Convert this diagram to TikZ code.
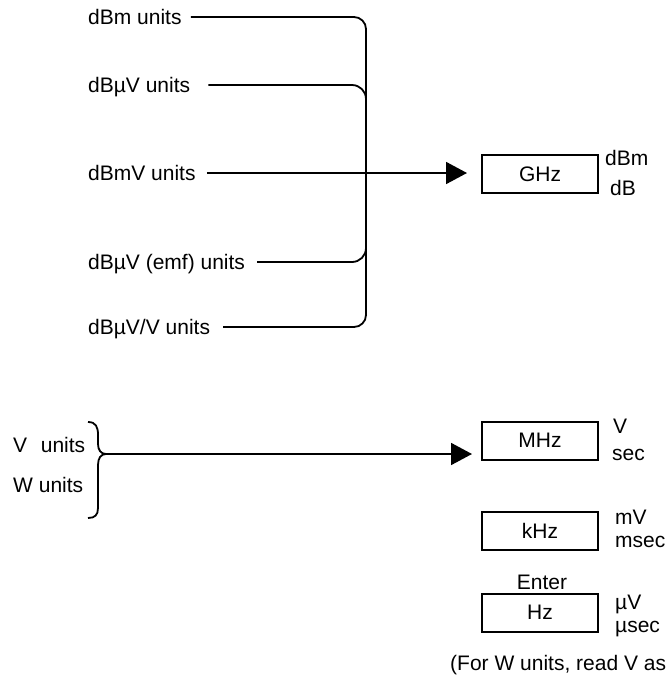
\documentclass[tikz,border=0pt]{standalone}
\usepackage{fontspec}
\setmainfont{Liberation Sans}
\usetikzlibrary{arrows.meta,calc}
\begin{document}
\begin{tikzpicture}[x=1pt,y=-1pt,
  lbl/.style={anchor=west, inner sep=0pt, text height=14pt, text depth=0pt, font=\fontsize{21}{24}\selectfont},
  clbl/.style={lbl, anchor=center},
  keybox/.style={draw, line width=2pt, minimum width=116pt, minimum height=38pt, inner sep=0pt, font=\fontsize{21}{24}\selectfont},
  wire/.style={line width=1.8pt},
  arr/.style={wire, -{Triangle[length=21pt,width=22pt]}}]
\useasboundingbox (0,0) rectangle (666,681);

% left labels
\node[lbl] (dbm)   at (88,17)  {dBm units};
\node[lbl] (dbuv)  at (88,85)  {dBµV units};
\node[lbl] (dbmv)  at (88,173) {dBmV units};
\node[lbl] (dbemf) at (88,262) {dBµV (emf) units};
\node[lbl] (dbuvv) at (88,327) {dBµV/V units};

\node[lbl] (vu) at (13,445) {\makebox[72pt][s]{V\hfill units}};
\node[lbl] (wu) at (13,485) {W units};

% keys
\node[keybox] (ghz) at (540,174) {GHz};
\node[keybox] (mhz) at (540,440.5) {MHz};
\node[keybox] (khz) at (540,531) {kHz};
\node[keybox] (hz)  at (540,612.5) {Hz};

\node[lbl] (l1) at (605,158) {dBm};
\node[lbl] (l2) at (610,188) {dB};
\node[lbl] (l3) at (613,426) {V};
\node[lbl] (l4) at (612,453) {sec};
\node[lbl] (l5) at (615,517) {mV};
\node[lbl] (l6) at (615,540) {msec};
\node[clbl] (ent) at (542,582) {Enter};
\node[lbl] (l7) at (615,602) {µV};
\node[lbl] (l8) at (615,625) {µsec};
\node[lbl] (note) at (450,663) {(For W units, read V as};

% trunk coordinates
\coordinate (tt) at (366,17);
\coordinate (tb) at (366,327);

% outer trunk: dBm -> down -> dBuV/V
\draw[wire, rounded corners=12pt]
  ([xshift=9pt]dbm.east) -- (dbm.east -| tt) -- (dbuvv.east -| tb) -- ([xshift=13pt]dbuvv.east);
% dBuV branch
\draw[wire, rounded corners=14pt]
  ([xshift=18pt]dbuv.east) -- (dbuv.east -| tt) -- ($(dbuv.east -| tt)+(0,16)$);
% emf branch
\draw[wire, rounded corners=14pt]
  ($(dbemf.east -| tt)+(0,-16)$) -- (dbemf.east -| tt) -- ([xshift=12pt]dbemf.east);
% main arrow
\draw[arr, shorten >=14pt] ([xshift=11pt]dbmv.east) -- (dbmv.east -| ghz.west);

% brace for V / W units
\coordinate (bt) at (106,454);
\draw[wire] (88,422) .. controls (96,422) and (98,427) .. (98,435) -- (98,444)
  .. controls (98,450) and (101,454) .. (bt)
  .. controls (101,454) and (98,458) .. (98,465) -- (98,508)
  .. controls (98,515) and (95,518) .. (88,518);
\draw[arr, shorten >=9pt] (bt) -- (bt -| mhz.west);
\end{tikzpicture}
\end{document}
